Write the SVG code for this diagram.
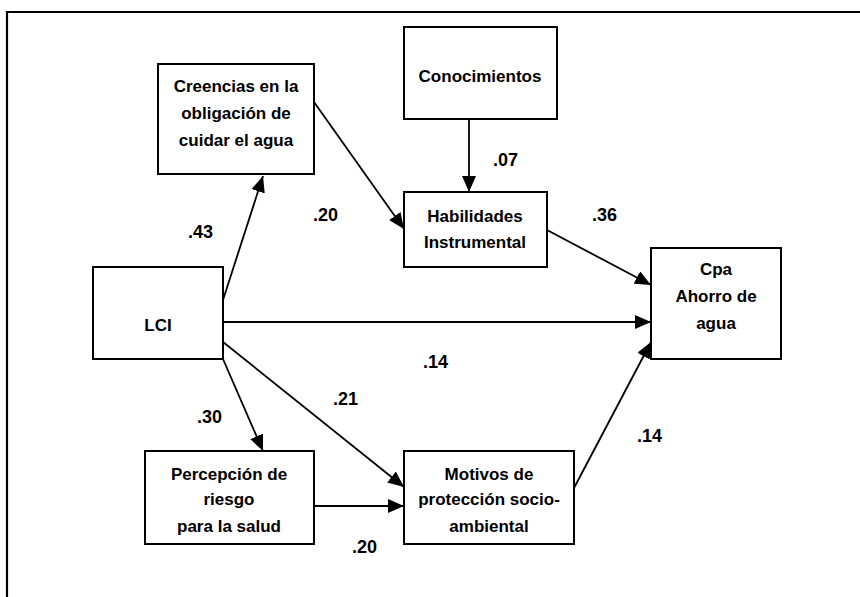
<svg xmlns="http://www.w3.org/2000/svg" width="860" height="597" viewBox="0 0 860 597">
<style>
.box{fill:#fff;stroke:#000;stroke-width:2}
.t{font-family:"Liberation Sans",Arial,sans-serif;font-weight:bold;font-size:17px;fill:#000;text-anchor:middle}
.lbl{font-family:"Liberation Sans",Arial,sans-serif;font-weight:bold;font-size:18px;fill:#000}
.c{stroke:#000;stroke-width:1.8;fill:none;marker-end:url(#ah)}
</style>
<defs>
<marker id="ah" markerUnits="userSpaceOnUse" markerWidth="16" markerHeight="14" refX="16" refY="7" orient="auto">
<path d="M0,0 L16,7 L0,14 z" fill="#000"/>
</marker>
</defs>
<rect width="860" height="597" fill="#fff"/>
<path d="M7,597 V12 H860" fill="none" stroke="#000" stroke-width="2.2"/>
<g id="connectors">
<line class="c" x1="223" y1="300" x2="263" y2="176"/>
<line class="c" x1="314" y1="102" x2="404" y2="229"/>
<line class="c" x1="469" y1="119" x2="469" y2="192"/>
<line class="c" x1="547" y1="230" x2="651" y2="285"/>
<line class="c" x1="223" y1="322" x2="651" y2="322"/>
<line class="c" x1="223" y1="359" x2="263" y2="451"/>
<line class="c" x1="223" y1="342" x2="404" y2="487"/>
<line class="c" x1="314" y1="506" x2="404" y2="506"/>
<line class="c" x1="574" y1="488" x2="651" y2="342"/>
</g>
<g id="labels">
<text class="lbl" x="188" y="238">.43</text>
<text class="lbl" x="313" y="221">.20</text>
<text class="lbl" x="493" y="166">.07</text>
<text class="lbl" x="592" y="221">.36</text>
<text class="lbl" x="423" y="368">.14</text>
<text class="lbl" x="333" y="405">.21</text>
<text class="lbl" x="197" y="423">.30</text>
<text class="lbl" x="352" y="553">.20</text>
<text class="lbl" x="637" y="442">.14</text>
</g>
<g id="creencias">
<rect class="box" x="158" y="64" width="156" height="110"/>
<text class="t" x="236" y="92">Creencias en la</text>
<text class="t" x="236" y="119">obligación de</text>
<text class="t" x="236" y="146">cuidar el agua</text>
</g>
<g id="conocimientos">
<rect class="box" x="404" y="27" width="153" height="92"/>
<text class="t" x="480" y="82">Conocimientos</text>
</g>
<g id="habilidades">
<rect class="box" x="404" y="192" width="143" height="75"/>
<text class="t" x="475" y="222">Habilidades</text>
<text class="t" x="475" y="248">Instrumental</text>
</g>
<g id="lci">
<rect class="box" x="93" y="267" width="130" height="92"/>
<text class="t" x="158" y="331">LCI</text>
</g>
<g id="cpa">
<rect class="box" x="651" y="248" width="130" height="111"/>
<text class="t" x="716" y="275">Cpa</text>
<text class="t" x="716" y="302">Ahorro de</text>
<text class="t" x="716" y="329">agua</text>
</g>
<g id="percepcion">
<rect class="box" x="145" y="451" width="169" height="93"/>
<text class="t" x="229" y="480">Percepción de</text>
<text class="t" x="229" y="505">riesgo</text>
<text class="t" x="229" y="532">para la salud</text>
</g>
<g id="motivos">
<rect class="box" x="404" y="451" width="170" height="93"/>
<text class="t" x="489" y="480">Motivos de</text>
<text class="t" x="489" y="505">protección socio-</text>
<text class="t" x="489" y="532">ambiental</text>
</g>
</svg>
